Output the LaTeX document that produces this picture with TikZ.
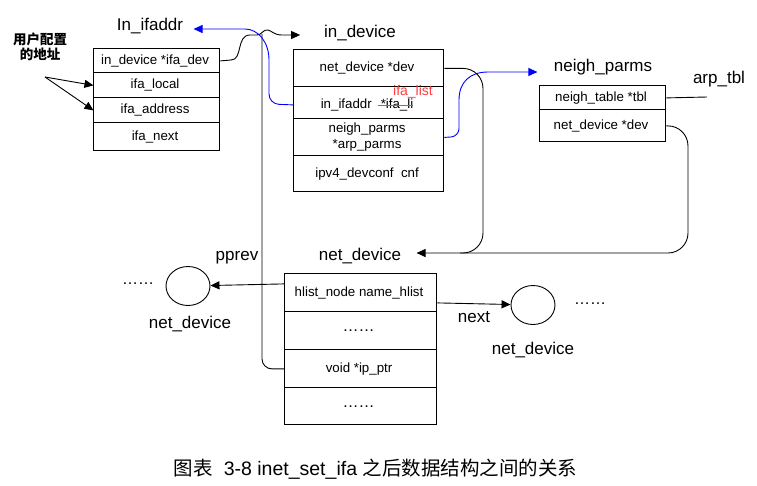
\documentclass[tikz,border=0pt]{standalone}
\usepackage{fontspec}
\setmainfont{Liberation Sans}
\newfontfamily\cjk{Noto Sans CJK SC}
\usepackage{xcolor}
\definecolor{cblue}{rgb}{0,0,1}
\definecolor{cred}{rgb}{1,0.25,0.25}
\newcommand{\boxfont}{\fontsize{13.3}{15}\selectfont}
\newcommand{\titlefont}{\fontsize{17}{19}\selectfont}
\newcommand{\dotsfont}{\fontsize{16}{18}\selectfont}
\newcommand{\twolines}[2]{\vbox{\baselineskip=16pt\hbox to 100pt{\hfil#1\hfil}\hbox to 100pt{\hfil#2\hfil}}}
\usepackage{tikz}
\usetikzlibrary{matrix, positioning, shapes.geometric, arrows.meta}
\tikzset{
level/.style={
	draw,
	anchor=center,
	align=center,
	inner sep=1pt,
	font=\boxfont
},
stack/.style={
	matrix of nodes,
	nodes={level},
	row sep=-\pgflinewidth,
	inner sep=0pt,
	anchor=north west
},
Title/.style={
	font=\titlefont,
	inner sep=2pt,
	anchor=base
},
Edge/.style={
	draw=black,
	-{Triangle[length=9pt,width=8pt]}
},
BlueEdge/.style={
	Edge,
	draw=cblue
},
Line/.style={
	draw=black
},
Dev/.style={
	draw, ellipse,
	minimum width=44pt,
	minimum height=39pt,
	inner sep=0pt
},
Dots/.style={
	font=\dotsfont,
	anchor=base
}
}

\begin{document}
\begin{tikzpicture}[x=1pt, y=1pt, line width=0.9pt]
	\useasboundingbox (0,0) rectangle (757,-485);

	% in_ifaddr
	\node[Title] (ifaT) at (150,-30) {In\_ifaddr};
	\node[font=\cjk\bfseries\fontsize{13.5}{15}\selectfont, align=center] (addrT) at (40,-47) {用户配置\\的地址};
	\matrix[stack, nodes={minimum width=126pt},
		row 1/.style={nodes={minimum height=24pt}},
		row 2/.style={nodes={minimum height=25pt}},
		row 3/.style={nodes={minimum height=25pt}},
		row 4/.style={nodes={minimum height=28pt}}] (ifaddr) at (93,-48) {
		in\_device *ifa\_dev \\
		ifa\_local \\
		ifa\_address \\
		ifa\_next \\
	};

	% in_device
	\node[Title] (indevT) at (360,-37.5) {in\_device};
	\matrix[stack, nodes={minimum width=150pt},
		row 1/.style={nodes={minimum height=37pt}},
		row 2/.style={nodes={minimum height=32pt}},
		row 3/.style={nodes={minimum height=37pt}},
		row 4/.style={nodes={minimum height=36pt}}] (indev) at (293,-49) {
		net\_device *dev \\
		|[text height=11pt, text depth=0pt]| in\_ifaddr\hspace{9pt}*ifa\_li\llap{\textcolor{cred}{\rule[0.3ex]{35pt}{1.3pt}}} \\
		\twolines{neigh\_parms}{*arp\_parms} \\
		ipv4\_devconf\ \ cnf \\
	};
	\node[Title, font=\fontsize{14}{16}\selectfont, text=cred] (listT) at (413,-95) {ifa\_list};

	% neigh_parms
	\node[Title] (npT) at (603,-71) {neigh\_parms};
	\node[Title] (arpT) at (719,-83) {arp\_tbl};
	\matrix[stack, nodes={minimum width=126pt},
		row 1/.style={nodes={minimum height=24pt}},
		row 2/.style={nodes={minimum height=32pt}}] (nparms) at (539,-85) {
		neigh\_table *tbl \\
		net\_device *dev \\
	};

	% net_device
	\node[Title] (ndT) at (360,-260) {net\_device};
	\node[Title] (pprevT) at (237,-260) {pprev};
	\matrix[stack, nodes={minimum width=152pt},
		row 1/.style={nodes={minimum height=38pt}},
		row 2/.style={nodes={minimum height=38pt, font=\dotsfont}},
		row 3/.style={nodes={minimum height=38pt}},
		row 4/.style={nodes={minimum height=37pt, font=\dotsfont}}] (nlist) at (284,-273) {
		hlist\_node name\_hlist \\
		…… \\
		void *ip\_ptr \\
		…… \\
	};

	\node[Dev] (devL) at (188,-286) {};
	\node[Dots] (dotsL) at (138,-284) {……};
	\node[Title] (devLT) at (190,-328) {net\_device};
	\node[Dev] (devR) at (533,-305) {};
	\node[Dots] (dotsR) at (590,-304) {……};
	\node[Title] (nextT) at (474,-322) {next};
	\node[Title] (devRT) at (533,-354) {net\_device};

	\node[anchor=base, inner sep=0pt, font=\fontsize{19.5}{21}\selectfont] (caption) at (375.5,-475)
		{{\cjk 图表}\ \ 3-8 inet\_set\_ifa {\cjk 之后数据结构之间的关系}};

	\coordinate (addrC) at (45,-77);
	\coordinate (hop) at (262,-34);
	\coordinate (join) at (460,-253);
	\coordinate (arpEnd) at (707,-97);

	\draw[Edge] (addrC) -- (ifaddr-2-1.west);
	\draw[Edge] (addrC) -- (ifaddr-3-1.west);
	\draw[Line, rounded corners=10pt] (nlist-3-1.west) -| (hop);
	\draw[Edge] (ifaddr-1-1.east) -- (231,-60) .. controls (243,-60) and (236,-35) .. (250,-35)
		-- (257,-35) .. controls (262,-35) and (263,-29) .. (268,-30)
		.. controls (272,-31) and (274,-35) .. (282,-35) -- ([xshift=-21.5pt,yshift=2.5pt]indevT.base west);
	\draw[BlueEdge, rounded corners=10pt] ([yshift=-2pt]indev-2-1.west) -- (269,-104) -- (269,-70)
		.. controls (269,-42) and (258,-29) .. (235,-29) -- ([xshift=8pt,yshift=1pt]ifaT.base east);
	\draw[BlueEdge, rounded corners=8pt] (indev-3-1.east) -- (459,-136.5) -- (459,-108)
		.. controls (459,-82) and (470,-72) .. (496,-72) -- ([xshift=-14pt,yshift=-1pt]npT.base west);
	\draw[Edge, rounded corners=20pt] (indev-1-1.east) -| (483,-253) -- ([xshift=13pt,yshift=7pt]ndT.base east);
	\draw[Line, rounded corners=20pt] (nparms-2-1.east) -| (688,-253) -- (join);
	\draw[Line] (nparms-1-1.east) -- (arpEnd);
	\draw[Edge] ([yshift=9pt]nlist-1-1.west) -- (devL);
	\draw[Edge] ([yshift=-10pt]nlist-1-1.east) -- (devR);
\end{tikzpicture}
\end{document}
